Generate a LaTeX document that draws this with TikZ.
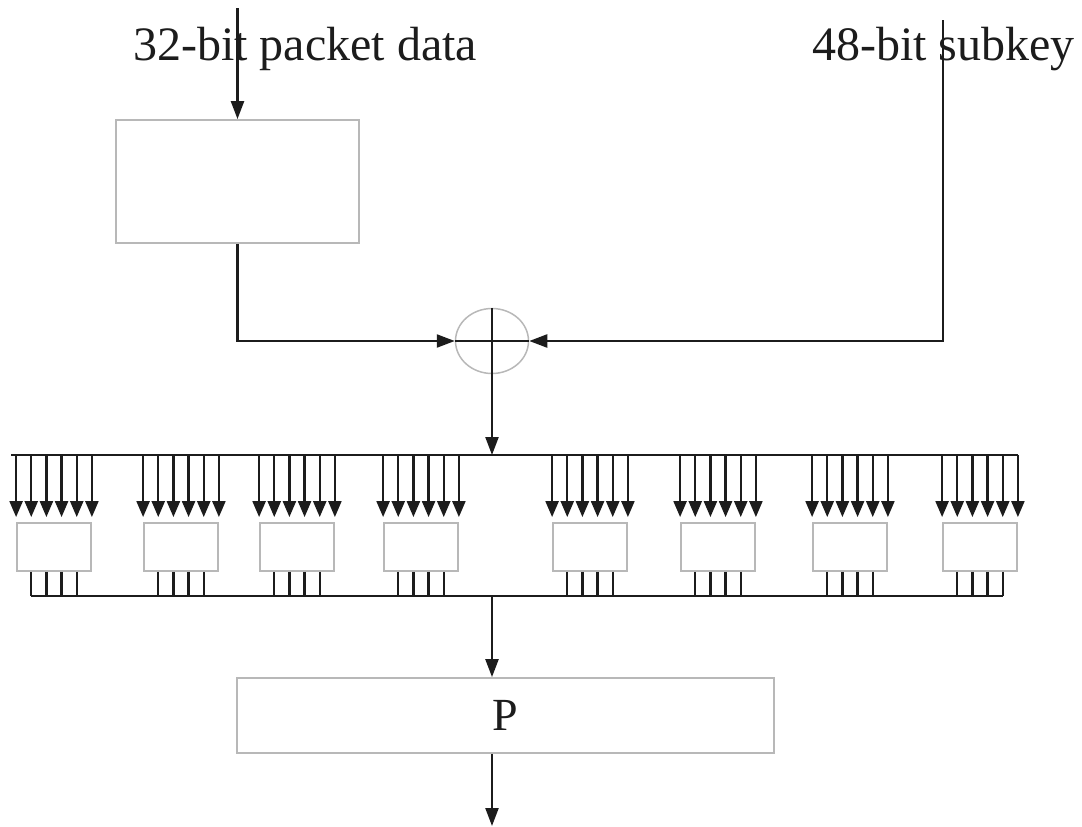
\documentclass[tikz,border=0pt]{standalone}
\usepackage{fontspec}
\setmainfont{Liberation Serif}
\usetikzlibrary{arrows.meta,calc,shapes.geometric}
\definecolor{ink}{HTML}{1C1C1C}
\definecolor{boxgray}{HTML}{B8B8B8}
\begin{document}
\begin{tikzpicture}[x=1pt,y=-1pt,
  wire/.style={draw=ink,line width=2.3pt},
  arr/.style={wire,-{Triangle[length=18pt,width=13pt]}},
  barr/.style={wire,-{Triangle[length=16pt,width=13pt]},shorten >=5pt},
  gbox/.style={draw=boxgray,line width=1.8pt,rectangle,inner sep=0pt},
  sbox/.style={gbox,minimum width=74pt,minimum height=48pt},
  lbl/.style={font=\fontsize{48}{50}\selectfont,text=ink,inner sep=0pt,anchor=base west}]
\useasboundingbox (0,0) rectangle (1082,827);
% labels
\node[lbl] (txtA) at (133,60) {32-bit packet data};
\node[lbl] (txtB) at (812,60) {48-bit subkey};
% first box
\node[gbox,minimum width=243pt,minimum height=123pt] (box1) at (237.5,181.5) {};
% xor
\node[draw=boxgray,line width=1.5pt,ellipse,minimum width=73pt,minimum height=65pt,inner sep=0pt] (xor) at (492,341) {};
% S-boxes
\foreach \i/\xl in {1/17,2/144,3/260,4/384,5/553,6/681,7/813,8/943}{
  \node[sbox] (s\i) at (\xl+37,547) {};
}
% P box
\node[gbox,minimum width=537pt,minimum height=75pt,font=\fontsize{46}{50}\selectfont,text=ink] (P) at (505.5,715.5) {P};
% coordinates
\coordinate (inA) at (237.5,8);
\coordinate (inB) at (943,20);
\coordinate (tbL) at (11,455);
\coordinate (tbR) at (1018,455);
\coordinate (busTop) at (492,455);
\coordinate (busBot) at (492,596);
\coordinate (out) at (492,826);
% input arrows
\draw[arr] (inA) -- (box1.north);
\draw[arr] (box1.south) |- (xor.west);
\draw[arr] (inB) |- (xor.east);
% xor cross
\draw[wire] (xor.west) -- (xor.east);
\draw[arr] (xor.north) -- (busTop);
% top bus
\draw[wire] (tbL) -- (tbR);
% S-box inputs and outputs
\foreach \i in {1,...,8}{
  \foreach \k in {0,...,5}{
    \coordinate (a) at ($(s\i.north west)!\k/5!(s\i.north east)$);
    \draw[barr] (a |- tbL) -- (a);
  }
  \foreach \k in {1,...,4}{
    \coordinate (b) at ($(s\i.south west)!\k/5!(s\i.south east)$);
    \draw[wire] (b) -- (b |- busBot);
  }
}
% bottom bus
\coordinate (bl) at ($(s1.south west)!0.2!(s1.south east)$);
\coordinate (br) at ($(s8.south west)!0.8!(s8.south east)$);
\draw[wire] (bl |- busBot) -- (br |- busBot);
% to P and out
\draw[arr] (busBot) -- (busBot |- P.north);
\draw[arr] (busBot |- P.south) -- (out);
\end{tikzpicture}
\end{document}
